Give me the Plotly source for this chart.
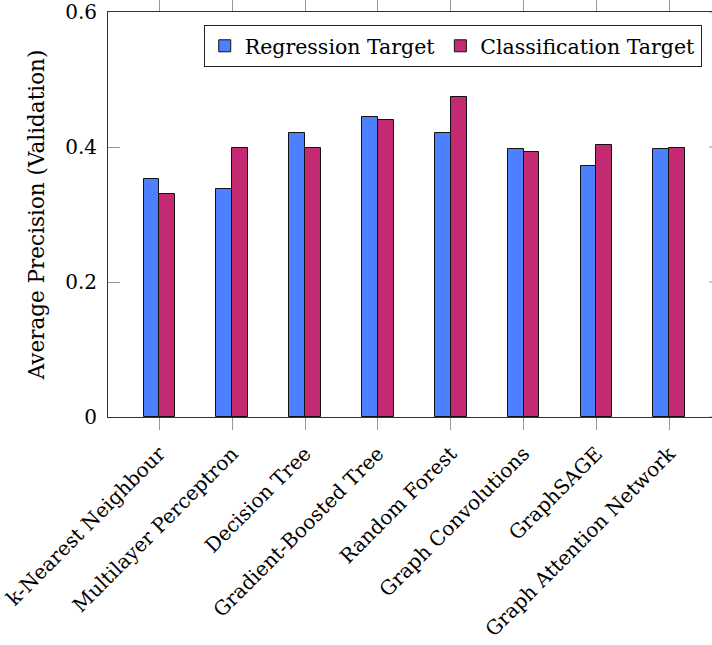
import plotly.graph_objects as go

# Model names and average precision on the validation split
models = [
    "k-Nearest Neighbour",
    "Multilayer Perceptron",
    "Decision Tree",
    "Gradient-Boosted Tree",
    "Random Forest",
    "Graph Convolutions",
    "GraphSAGE",
    "Graph Attention Network",
]
regression_ap = [0.352, 0.338, 0.421, 0.444, 0.421, 0.397, 0.372, 0.397]
classification_ap = [0.330, 0.399, 0.398, 0.440, 0.474, 0.392, 0.403, 0.398]
y_ticks = [0, 0.2, 0.4, 0.6]
y_tick_text = ["0", "0.2", "0.4", "0.6"]

BLUE = "#4d80ff"
PINK = "#c32a72"
FONT = "DejaVu Serif"
BAR_W = 0.217
X_RANGE = [-0.706, 7.587]
X_RIGHT_AXIS = 7.706  # right frame edge lies just beyond the visible area
TICK_LEN_UNITS = 0.161

fig = go.Figure()
fig.add_trace(go.Bar(
    x=models, y=regression_ap, name="Regression Target",
    width=BAR_W, offset=-BAR_W,
    marker=dict(color=BLUE, line=dict(color="#111", width=1)),
))
fig.add_trace(go.Bar(
    x=models, y=classification_ap, name="Classification Target",
    width=BAR_W, offset=0,
    marker=dict(color=PINK, line=dict(color="#111", width=1)),
))

# short inward ticks on the right frame edge
for v in y_ticks:
    fig.add_shape(type="line", xref="x", yref="y",
                  x0=X_RIGHT_AXIS - TICK_LEN_UNITS, x1=X_RIGHT_AXIS, y0=v, y1=v,
                  line=dict(color="#999", width=1), layer="above")

fig.update_layout(
    width=712, height=645,
    margin=dict(l=108, r=0, t=12, b=228),
    paper_bgcolor="white", plot_bgcolor="white",
    font=dict(family=FONT, size=20, color="black"),
    showlegend=True,
    legend=dict(
        orientation="h",
        x=0.983, xanchor="right", y=0.968, yanchor="top",
        bordercolor="#222", borderwidth=1, bgcolor="white",
        font=dict(family=FONT, size=20.5),
        itemwidth=30, traceorder="normal",
    ),
    bargap=0,
)
fig.update_xaxes(
    type="category", range=X_RANGE,
    showline=True, linecolor="#333", linewidth=1, mirror="ticks",
    ticks="outside", ticklen=12, tickcolor="#999", tickwidth=1,
    tickangle=-45, tickfont=dict(family=FONT, size=20), ticklabelstandoff=4,
    showgrid=False, zeroline=False,
)
fig.update_yaxes(
    range=[0, 0.6], tickvals=y_ticks, ticktext=y_tick_text,
    showline=True, linecolor="#333", linewidth=1,
    ticks="inside", ticklen=12, tickcolor="#999", tickwidth=1,
    tickfont=dict(family=FONT, size=20), ticklabelstandoff=6,
    showgrid=False, zeroline=False,
    title=dict(text="Average Precision (Validation)", font=dict(family=FONT, size=21.5), standoff=14),
)

fig.write_html("out.html")
